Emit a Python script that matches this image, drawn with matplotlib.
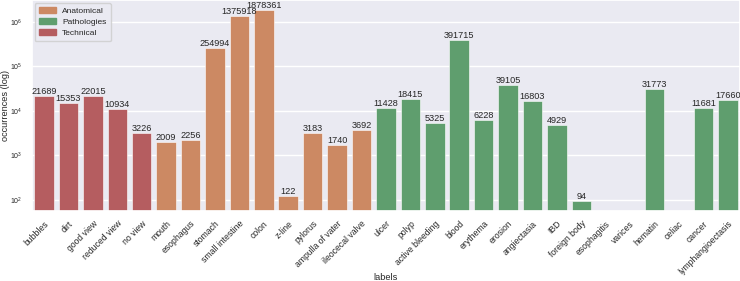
import matplotlib
matplotlib.use("Agg")
import matplotlib.pyplot as plt
import seaborn as sns
import numpy as np
from matplotlib.patches import Patch

sns.set_theme(style="darkgrid")
plt.rcParams['font.family'] = ['Liberation Sans', 'DejaVu Sans']

labels = ["bubbles", "dirt", "good view", "reduced view", "no view",
          "mouth", "esophagus", "stomach", "small intestine", "colon", "z-line",
          "pylorus", "ampulla of vater", "ileocecal valve",
          "ulcer", "polyp", "active bleeding", "blood", "erythema", "erosion",
          "angiectasia", "IBD", "foreign body", "esophagitis", "varices",
          "hematin", "celiac", "cancer", "lymphangioectasis"]
counts = [21689, 15353, 22015, 10934, 3226,
          2009, 2256, 254994, 1375918, 1878361, 122,
          3183, 1740, 3692,
          11428, 18415, 5325, 391715, 6228, 39105,
          16803, 4929, 94, 0, 0,
          31773, 0, 11681, 17660]
groups = (["Technical"] * 5 + ["Anatomical"] * 9 + ["Pathologies"] * 15)
group_order = ["Anatomical", "Pathologies", "Technical"]

deep = sns.color_palette("deep")
group_colors = {"Anatomical": sns.desaturate(deep[1], 0.75),
                "Pathologies": sns.desaturate(deep[2], 0.75),
                "Technical": sns.desaturate(deep[3], 0.75)}

fig = plt.figure(figsize=(7.4, 2.81), dpi=100)
ax = fig.add_axes([0.043, 0.25, 0.957, 0.75])

x = np.arange(len(labels))
vals = np.array(counts, dtype=float)
ax.bar(x, vals, width=0.8,
       color=[group_colors[g] for g in groups], edgecolor='white',
       linewidth=0.4)
ax.set_yscale('log')
ax.set_ylim(57, 3.1e6)
ax.set_xlim(-0.5, len(labels) - 0.5)

for xi, v in zip(x, counts):
    if v > 0:
        ax.text(xi, v, str(v), ha='center', va='bottom', fontsize=6.6,
                color='#262626', clip_on=False)

ax.set_xticks(x)
ax.set_xticklabels(labels, rotation=45, ha='right', va='top',
                   rotation_mode='anchor', fontsize=6.2)
ax.tick_params(axis='y', which='both', size=0, labelsize=5.0, pad=7)
ax.tick_params(axis='x', which='both', size=0, pad=6)
ax.set_ylabel("occurrences (log)", fontsize=6.6)
ax.yaxis.set_label_coords(-0.0305, 0.5)
ax.set_xlabel("labels", fontsize=6.6)
ax.xaxis.set_label_coords(0.5, -0.295)
ax.grid(axis='x', visible=False)

handles = [Patch(color=group_colors[g], label=g) for g in group_order]
ax.legend(handles=handles, loc='upper left', fontsize=6.0, frameon=True,
          borderpad=0.5, handlelength=2.0, labelspacing=0.4,
          borderaxespad=0.35)

fig.savefig("out.png", dpi=100)
